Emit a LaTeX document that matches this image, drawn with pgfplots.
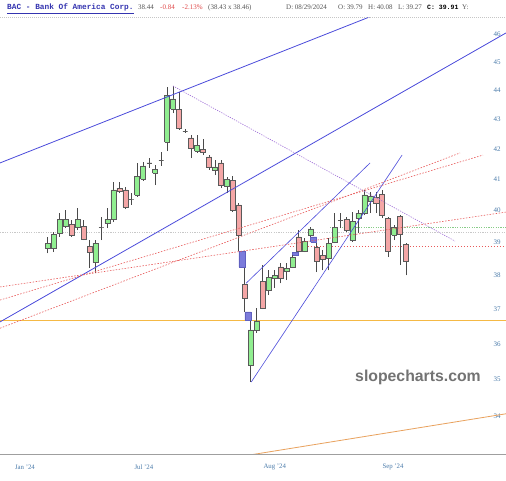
\documentclass[border=0pt]{standalone}
\usepackage{pgfplots}
\pgfplotsset{compat=1.18}
\usepackage{fontspec}
\setmainfont{Liberation Serif}
\newfontfamily\monofont{Liberation Mono}
\newfontfamily\wmfont{Liberation Sans}

\definecolor{upcol}{HTML}{90EE90}
\definecolor{downcol}{HTML}{F4A6A6}
\definecolor{dojicol}{HTML}{555555}
\definecolor{edgecol}{HTML}{5A5A5A}
\definecolor{wickcol}{HTML}{4A4A4A}
\definecolor{gapcol}{HTML}{7B7BDB}
\definecolor{gapedge}{HTML}{6060C0}
\definecolor{chanblue}{HTML}{4B4BDB}
\definecolor{purp}{HTML}{A070D8}
\definecolor{reddot}{HTML}{E85A5A}
\definecolor{greendot}{HTML}{88CC88}
\definecolor{graydot}{HTML}{C8C8C8}
\definecolor{orangeh}{HTML}{F5B945}
\definecolor{orangeb}{HTML}{E9A25E}
\definecolor{lbl}{HTML}{4A7BAA}
\definecolor{titleblue}{HTML}{3434B0}
\definecolor{hdrgray}{HTML}{555555}
\definecolor{hdrred}{HTML}{E04848}

% candle: index, open, high, low, close
\newcommand{\candle}[5]{%
  \pgfmathsetmacro{\cxl}{#1-0.42}%
  \pgfmathsetmacro{\cxr}{#1+0.42}%
  \pgfmathtruncatemacro{\ckind}{(#5>#2) ? 1 : ((#5<#2) ? 2 : 0)}%
  \ifcase\ckind \def\cbody{dojicol}\or \def\cbody{upcol}\or \def\cbody{downcol}\fi
  \edef\candletmp{\noexpand\addplot[wickcol, line width=0.9pt, forget plot] coordinates {(#1,#4) (#1,#3)};}\candletmp
  \edef\candletmp{\noexpand\addplot[draw=edgecol, fill=\cbody, line width=0.7pt, forget plot] coordinates {(\cxl,#2) (\cxr,#2) (\cxr,#5) (\cxl,#5) (\cxl,#2)};}\candletmp
}
% gap box: position, low, high
\newcommand{\gapbox}[3]{%
  \pgfmathsetmacro{\cxl}{#1-0.5}%
  \pgfmathsetmacro{\cxr}{#1+0.5}%
  \edef\candletmp{\noexpand\addplot[draw=gapedge, fill=gapcol, line width=0.5pt, forget plot] coordinates {(\cxl,#2) (\cxr,#2) (\cxr,#3) (\cxl,#3) (\cxl,#2)};}\candletmp
}

\begin{document}
\begin{tikzpicture}
\fill[white] (0,-25pt) rectangle (506pt,455pt);
\path[use as bounding box] (0,-25pt) rectangle (506pt,455pt);
\begin{axis}[
  at={(0,0)}, anchor=south west,
  scale only axis, width=506pt, height=437pt,
  xmin=-7.98, xmax=76.70,
  ymode=log, ymin=32.97, ymax=46.59,
  enlargelimits=false,
  axis line style={draw=none},
  major tick length=0pt, minor tick num=0,
  ytick={34,35,36,37,38,39,40,41,42,43,44,45,46},
  yticklabels={34,35,36,37,38,39,40,41,42,43,44,45,46},
  yticklabel pos=right,
  yticklabel style={anchor=center, xshift=-9pt, text=lbl, font=\fontsize{7}{8}\selectfont},
  xtick={-3.8,16.1,38.0,57.8},
  xticklabels={Jan '24, Jul '24, Aug '24, Sep '24},
  xticklabel style={anchor=center, yshift=-12pt, text=lbl, font=\fontsize{6.8}{8}\selectfont},
  /pgf/number format/assume math mode=true,
]
% horizontal reference lines
\addplot[graydot, line width=0.7pt, dash pattern=on 1.2pt off 1.2pt, forget plot] coordinates {(-7.98,39.33) (76.70,39.33)};
\addplot[greendot, line width=0.7pt, dash pattern=on 1.2pt off 1.2pt, forget plot] coordinates {(47.25,39.49) (76.70,39.49)};
\addplot[reddot, line width=0.6pt, dash pattern=on 1.5pt off 1.5pt, forget plot] coordinates {(40.55,38.88) (76.70,38.88)};
\addplot[orangeh, line width=0.9pt, forget plot] coordinates {(-7.98,36.68) (76.70,36.68)};

% candles
\candle{0}{38.84}{39.18}{38.68}{38.99}
\candle{1}{38.84}{39.33}{38.71}{39.27}
\candle{2}{39.30}{39.93}{39.18}{39.74}
\candle{3}{39.52}{40.02}{39.46}{39.74}
\candle{4}{39.58}{39.71}{39.18}{39.24}
\candle{5}{39.49}{40.08}{39.39}{39.74}
\candle{6}{39.52}{39.71}{39.08}{39.11}
\candle{7}{38.90}{39.08}{38.23}{38.71}
\candle{8}{38.41}{39.08}{38.07}{38.99}
\candle{9}{39.49}{39.80}{39.08}{39.49}
\candle{10}{39.61}{40.08}{39.46}{39.74}
\candle{11}{39.74}{40.92}{39.64}{40.66}
\candle{12}{40.72}{40.92}{40.56}{40.63}
\candle{13}{40.66}{40.76}{40.05}{40.12}
\candle{14}{40.37}{40.56}{40.18}{40.37}
\candle{15}{40.50}{41.54}{40.44}{41.11}
\candle{16}{41.01}{41.57}{40.95}{41.44}
\candle{17}{41.54}{41.70}{41.38}{41.54}
\candle{18}{41.21}{41.47}{40.82}{41.34}
\candle{19}{41.61}{41.90}{41.44}{41.61}
\candle{20}{42.23}{44.11}{41.93}{43.83}
\candle{21}{43.35}{44.15}{43.21}{43.70}
\candle{22}{43.35}{43.94}{42.64}{42.70}
\candle{23}{42.60}{42.67}{42.54}{42.60}
\candle{24}{42.37}{42.47}{41.70}{42.03}
\candle{25}{41.93}{42.47}{41.87}{42.13}
\candle{26}{42.00}{42.34}{41.80}{41.90}
\candle{27}{41.74}{41.80}{41.31}{41.41}
\candle{28}{41.31}{41.64}{41.14}{41.41}
\candle{29}{41.54}{41.64}{40.72}{40.82}
\candle{30}{40.79}{41.08}{40.56}{41.01}
\candle{31}{40.98}{41.11}{39.96}{40.02}
\candle{32}{40.18}{40.24}{38.74}{39.24}
\candle{33}{37.74}{38.26}{36.92}{37.33}
\candle{34}{35.40}{36.68}{34.93}{36.40}
\candle{35}{36.40}{37.03}{36.31}{36.66}
\candle{36}{37.83}{38.32}{37.00}{37.03}
\candle{37}{37.57}{38.16}{37.42}{37.95}
\candle{38}{37.92}{38.16}{37.63}{38.01}
\candle{39}{38.26}{38.38}{37.77}{37.92}
\candle{40}{38.13}{38.38}{37.86}{38.23}
\candle{41}{38.26}{38.62}{38.23}{38.56}
\candle{42}{39.18}{39.39}{38.71}{38.74}
\candle{43}{38.74}{39.14}{38.71}{39.05}
\candle{44}{39.24}{39.49}{39.18}{39.43}
\candle{45}{38.87}{39.02}{38.10}{38.44}
\candle{46}{38.62}{38.77}{38.16}{38.50}
\candle{47}{38.53}{39.14}{38.16}{38.99}
\candle{48}{39.02}{39.93}{38.99}{39.49}
\candle{49}{39.69}{39.93}{39.46}{39.69}
\candle{50}{39.74}{39.80}{39.33}{39.39}
\candle{51}{39.08}{39.96}{39.02}{39.68}
\candle{52}{39.77}{40.02}{39.30}{39.93}
\candle{53}{39.93}{40.66}{39.86}{40.50}
\candle{54}{40.31}{40.60}{39.93}{40.44}
\candle{55}{40.41}{40.60}{39.93}{40.24}
\candle{56}{40.53}{40.66}{39.77}{39.86}
\candle{57}{39.77}{39.80}{38.56}{38.74}
\candle{58}{39.24}{39.55}{39.08}{39.49}
\candle{59}{39.83}{39.86}{38.32}{39.27}
\candle{60}{38.96}{38.99}{38.01}{38.44}

% gap markers
\gapbox{32.5}{38.26}{38.74}
\gapbox{33.5}{36.68}{36.92}
\gapbox{41.5}{38.62}{38.71}
\gapbox{44.5}{39.02}{39.18}

% trend lines
\addplot[chanblue, line width=0.8pt, forget plot] coordinates {(-7.98,41.54) (55.62,46.78)};
\addplot[chanblue, line width=0.8pt, forget plot] coordinates {(-7.98,36.63) (76.70,46.04)};
\addplot[chanblue, line width=0.6pt, forget plot] coordinates {(34.06,34.93) (59.31,41.80)};
\addplot[chanblue, line width=0.6pt, forget plot] coordinates {(33.20,37.77) (53.95,41.54)};
\addplot[purp, line width=0.6pt, dash pattern=on 1.2pt off 1.2pt, forget plot] coordinates {(20.97,44.15) (68.17,39.05)};
\addplot[reddot, line width=0.6pt, dash pattern=on 1.5pt off 1.5pt, forget plot] coordinates {(-7.98,37.66) (76.70,39.96)};
\addplot[reddot, line width=0.6pt, dash pattern=on 1.5pt off 1.5pt, forget plot] coordinates {(-7.98,37.27) (72.85,41.80)};
\addplot[reddot, line width=0.6pt, dash pattern=on 1.5pt off 1.5pt, forget plot] coordinates {(-7.98,36.45) (69.00,41.87)};
\addplot[orangeb, line width=0.8pt, forget plot] coordinates {(33.86,32.97) (76.70,34.06)};

\draw[draw=gray!75, line width=1.7pt] (rel axis cs:0,0) -- (rel axis cs:1,0);
\end{axis}

% header
\draw[gray!45, line width=0.6pt, dash pattern=on 1pt off 1pt] (0,438pt) -- (506pt,438pt);
\node[anchor=base west, inner sep=0pt, text=titleblue, font=\monofont\bfseries\fontsize{7.8}{9}\selectfont] at (7pt,445pt) {\underline{BAC - Bank Of America Corp.}};
\begin{scope}[every node/.style={anchor=base west, inner sep=0pt, text=hdrgray, font=\fontsize{7}{8}\selectfont}]
\node at (138pt,445pt) {38.44};
\node[text=hdrred] at (160pt,445pt) {-0.84};
\node[text=hdrred] at (182pt,445pt) {-2.13\%};
\node at (208pt,445pt) {(38.43 x 38.46)};
\node at (286pt,445pt) {D: 08/29/2024};
\node at (338pt,445pt) {O: 39.79};
\node at (368pt,445pt) {H: 40.08};
\node at (398pt,445pt) {L: 39.27};
\node[text=black, font=\monofont\bfseries\fontsize{6.5}{8}\selectfont] at (427pt,445pt) {C: 39.91};
\node at (462pt,445pt) {Y:};
\end{scope}

% watermark
\node[text=black!55, font=\wmfont\bfseries\fontsize{15.8}{18}\selectfont, inner sep=0pt] at (418pt,78pt) {slopecharts.com};
\end{tikzpicture}
\end{document}
